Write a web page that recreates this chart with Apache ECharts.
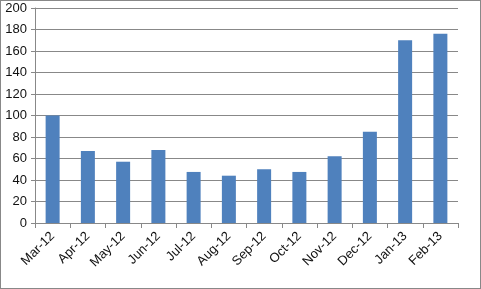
<!DOCTYPE html>
<html><head><meta charset="utf-8">
<script src="https://cdn.jsdelivr.net/npm/echarts@6/dist/echarts.min.js"></script>
<style>html,body{margin:0;padding:0;background:#fff}#c{width:481px;height:289px;box-sizing:border-box;border:1px solid #888}</style>
</head><body><div id="c"></div>
<script>
var categories = ['Mar-12','Apr-12','May-12','Jun-12','Jul-12','Aug-12','Sep-12','Oct-12','Nov-12','Dec-12','Jan-13','Feb-13'];
var values = [100, 67, 57, 68, 47.5, 44, 50, 47.5, 62, 85, 170, 176];
var chart = echarts.init(document.getElementById('c'));
chart.setOption({
  animation: false,
  grid: {left: 34, right: 22, top: 7, bottom: 65},
  xAxis: {
    type: 'category', data: categories, boundaryGap: true,
    axisLine: {lineStyle: {color: '#888', width: 1}},
    axisTick: {show: true, length: 5, alignWithLabel: false, lineStyle: {color: '#888'}},
    axisLabel: {rotate: 45, color: '#111', fontFamily: 'Liberation Sans', fontSize: 13, margin: 11, interval: 0}
  },
  yAxis: {
    type: 'value', min: 0, max: 200, interval: 20,
    axisLine: {show: true, lineStyle: {color: '#888', width: 1}},
    axisTick: {show: true, length: 4, lineStyle: {color: '#888'}},
    splitLine: {lineStyle: {color: '#888', width: 1}},
    axisLabel: {color: '#111', fontFamily: 'Liberation Sans', fontSize: 13, margin: 8}
  },
  series: [{type: 'bar', data: values, barWidth: 14, itemStyle: {color: '#4F81BD'}}]
});
</script></body></html>
